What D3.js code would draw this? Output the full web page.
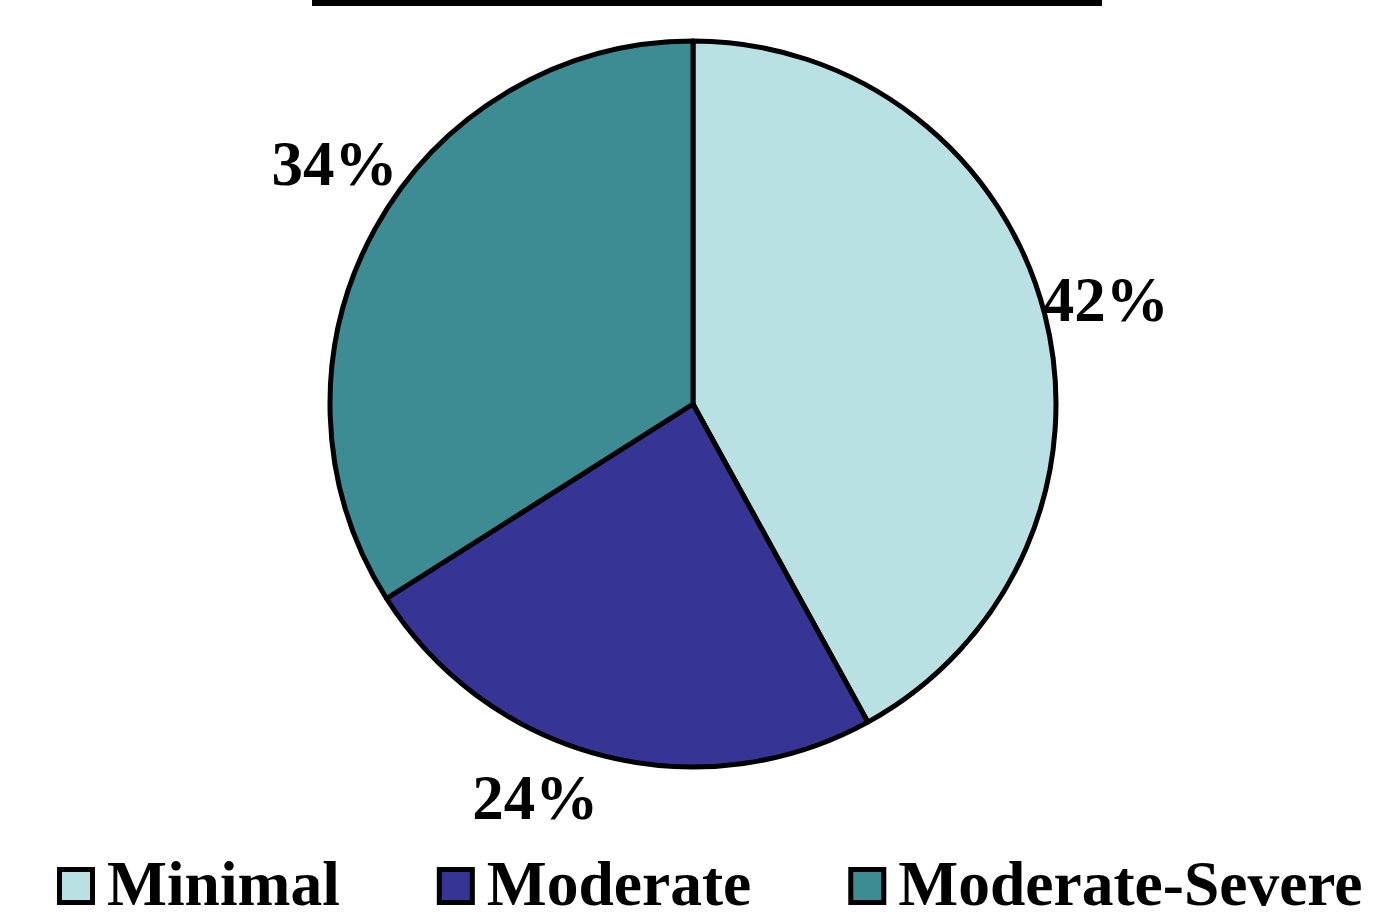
<!DOCTYPE html>
<html>
<head>
<meta charset="utf-8">
<script src="https://cdn.jsdelivr.net/npm/d3@7"></script>
<style>
  body { margin: 0; background: #fff; }
  svg { display: block; }
  text { font-family: "Liberation Serif", "Times New Roman", serif; font-weight: bold; fill: #000; }
</style>
</head>
<body>
<svg id="chart"></svg>
<script>
// categories and their shares (percent)
const categories = ["Minimal", "Moderate", "Moderate-Severe"];
const values = [42, 24, 34];
const colors = ["#b9e0e3", "#363596", "#3e8c93"];

const width = 1377, height = 914;
const cx = 693, cy = 404, radius = 363;

const svg = d3.select("#chart")
    .attr("width", width)
    .attr("height", height);

// cut-off title underline at the very top
svg.append("rect")
    .attr("x", 312).attr("y", 0)
    .attr("width", 790).attr("height", 6)
    .attr("fill", "#000");

const pie = d3.pie().sort(null).value(d => d.value);
const data = categories.map((c, i) => ({ name: c, value: values[i], color: colors[i] }));
const arcs = pie(data);

const arc = d3.arc().innerRadius(0).outerRadius(radius);
const labelArc = d3.arc().innerRadius(425).outerRadius(425);

const g = svg.append("g").attr("transform", `translate(${cx},${cy})`);

g.selectAll("path")
    .data(arcs)
    .enter()
    .append("path")
    .attr("d", arc)
    .attr("fill", d => d.data.color)
    .attr("stroke", "#000")
    .attr("stroke-width", 5)
    .attr("stroke-linejoin", "round");

// labels were hand-moved a bit in the original, so nudge off the centroid
const labelNudge = { "Minimal": [1, 1], "Moderate": [-52, -19], "Moderate-Severe": [14, -36] };

g.selectAll("text.pct")
    .data(arcs)
    .enter()
    .append("text")
    .attr("class", "pct")
    .attr("text-anchor", "middle")
    .attr("dy", "0.35em")
    .style("font-size", "63px")
    .attr("transform", d => {
        const c = labelArc.centroid(d);
        const n = labelNudge[d.data.name];
        return `translate(${c[0] + n[0]},${c[1] + n[1]})`;
    })
    .text(d => d.data.value + "%");

// legend along the bottom
const legend = svg.append("g").attr("class", "legend");
let x = 57;
data.forEach(d => {
    const item = legend.append("g").attr("transform", `translate(${x},867)`);
    item.append("rect")
        .attr("x", 2.5).attr("y", 2.5)
        .attr("width", 33).attr("height", 33)
        .attr("fill", d.color)
        .attr("stroke", "#000")
        .attr("stroke-width", 5);
    const t = item.append("text")
        .attr("x", 50).attr("y", 38)
        .style("font-size", "63.5px")
        .text(d.name);
    x += 50 + t.node().getComputedTextLength() + 97;
});
</script>
</body>
</html>
